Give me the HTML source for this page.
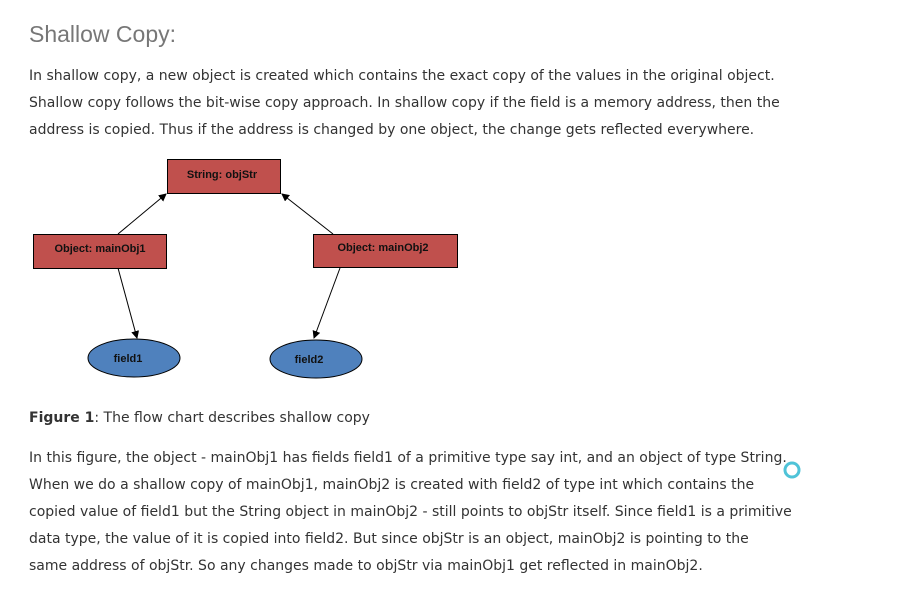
<!DOCTYPE html>
<html><head><style>
body{margin:0;width:900px;height:590px;background:#fff;position:relative;overflow:hidden;font-family:"DejaVu Sans","Liberation Sans",sans-serif;}
.t{position:absolute;left:29px;font-size:14px;color:#333;white-space:nowrap;}
h1{position:absolute;left:29px;top:21px;margin:0;font-family:"Liberation Sans",sans-serif;font-weight:normal;font-size:23px;color:#777;}
</style></head><body>
<h1>Shallow Copy:</h1>
<div class="t" style="top:68px">In shallow copy, a new object is created which contains the exact copy of the values in the original object.</div>
<div class="t" style="top:95px">Shallow copy follows the bit-wise copy approach. In shallow copy if the field is a memory address, then the</div>
<div class="t" style="top:122px">address is copied. Thus if the address is changed by one object, the change gets reflected everywhere.</div>
<svg style="position:absolute;left:0;top:0" width="900" height="590">
<defs><marker id="a" markerWidth="8" markerHeight="8" refX="7" refY="4" orient="auto"><path d="M0,0 L8,4 L0,8 z" fill="#000"/></marker></defs>
<g font-family="Liberation Sans,sans-serif" font-weight="bold" font-size="11" text-anchor="middle" fill="#111">
<rect x="167.5" y="159.5" width="113" height="34" fill="#c0504d" stroke="#000"/>
<text x="222" y="178">String: objStr</text>
<rect x="33.5" y="234.5" width="133" height="34" fill="#c0504d" stroke="#000"/>
<text x="100" y="252">Object: mainObj1</text>
<rect x="313.5" y="234.5" width="144" height="33" fill="#c0504d" stroke="#000"/>
<text x="383" y="251">Object: mainObj2</text>
<ellipse cx="134" cy="358" rx="46" ry="19" fill="#4f81bd" stroke="#000"/>
<text x="128" y="362">field1</text>
<ellipse cx="316" cy="359" rx="46" ry="19" fill="#4f81bd" stroke="#000"/>
<text x="309" y="363">field2</text>
</g>
<g stroke="#000" stroke-width="1">
<line x1="118" y1="234" x2="166" y2="194" marker-end="url(#a)"/>
<line x1="333" y1="234" x2="282" y2="194" marker-end="url(#a)"/>
<line x1="118" y1="268" x2="137" y2="338" marker-end="url(#a)"/>
<line x1="340" y1="268" x2="314" y2="338" marker-end="url(#a)"/>
</g>
<circle cx="792" cy="470" r="7" fill="none" stroke="#4fc3d8" stroke-width="3"/>
</svg>
<div class="t" style="top:410px"><b>Figure 1</b>: The flow chart describes shallow copy</div>
<div class="t" style="top:450px">In this figure, the object - mainObj1 has fields field1 of a primitive type say int, and an object of type String.</div>
<div class="t" style="top:477px">When we do a shallow copy of mainObj1, mainObj2 is created with field2 of type int which contains the</div>
<div class="t" style="top:504px">copied value of field1 but the String object in mainObj2 - still points to objStr itself. Since field1 is a primitive</div>
<div class="t" style="top:531px">data type, the value of it is copied into field2. But since objStr is an object, mainObj2 is pointing to the</div>
<div class="t" style="top:558px">same address of objStr. So any changes made to objStr via mainObj1 get reflected in mainObj2.</div>
</body></html>
